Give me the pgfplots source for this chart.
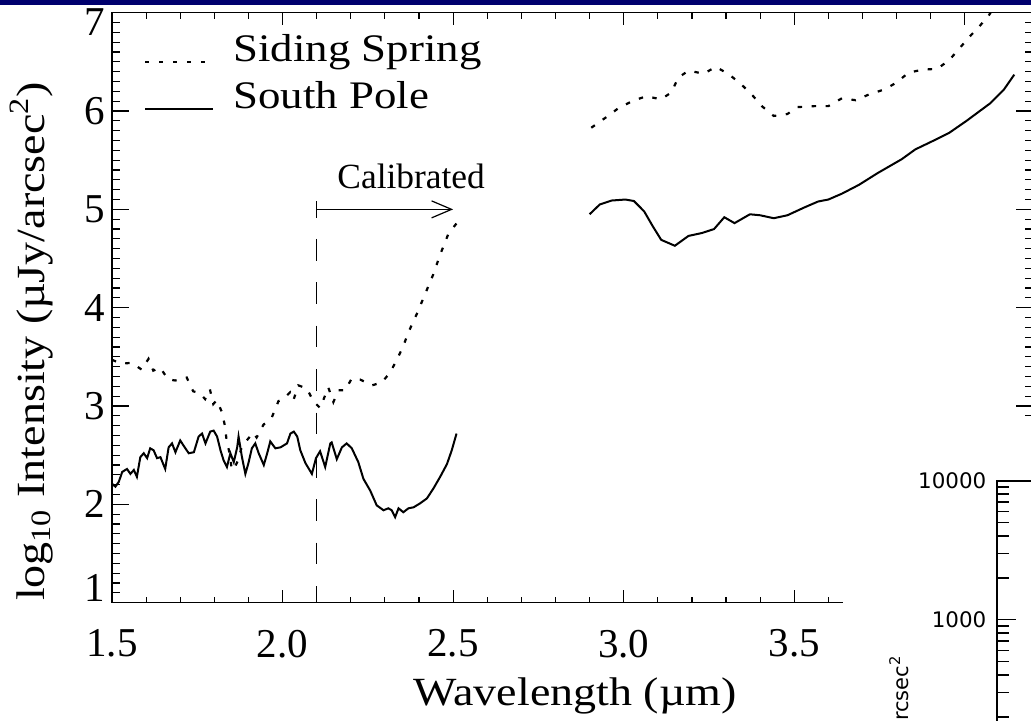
\documentclass[border=0pt]{standalone}
\usepackage{fontspec}
\setmainfont{Liberation Serif}
\newfontfamily\wideserif{Liberation Serif}[FakeStretch=1.15]
\newfontfamily\insetfont{DejaVu Sans}
\usepackage{pgfplots}
\pgfplotsset{compat=1.18}
\usetikzlibrary{arrows.meta}
\definecolor{navyband}{RGB}{0,0,110}

\pgfplotstableread{
x y
1.500 2.21
1.510 2.18
1.520 2.23
1.530 2.33
1.544 2.36
1.554 2.31
1.564 2.35
1.573 2.28
1.583 2.48
1.593 2.52
1.603 2.47
1.612 2.57
1.622 2.55
1.632 2.47
1.642 2.48
1.656 2.36
1.666 2.58
1.676 2.62
1.686 2.53
1.700 2.65
1.715 2.57
1.725 2.52
1.740 2.53
1.754 2.69
1.764 2.72
1.774 2.62
1.788 2.74
1.798 2.75
1.808 2.69
1.818 2.55
1.827 2.45
1.837 2.38
1.847 2.52
1.857 2.43
1.867 2.58
1.871 2.69
1.881 2.48
1.891 2.31
1.900 2.42
1.910 2.57
1.920 2.62
1.930 2.52
1.945 2.40
1.955 2.52
1.964 2.64
1.979 2.57
1.994 2.58
2.013 2.62
2.023 2.72
2.033 2.74
2.043 2.69
2.052 2.55
2.067 2.42
2.086 2.31
2.098 2.47
2.110 2.54
2.125 2.38
2.140 2.62
2.144 2.63
2.159 2.46
2.174 2.58
2.188 2.62
2.203 2.57
2.222 2.43
2.237 2.26
2.257 2.14
2.276 1.99
2.296 1.94
2.310 1.96
2.320 1.94
2.330 1.87
2.340 1.96
2.354 1.92
2.369 1.96
2.384 1.97
2.403 2.01
2.423 2.06
2.442 2.16
2.462 2.28
2.482 2.41
2.496 2.55
2.510 2.72
}\southA

\pgfplotstableread{
x y
2.900 4.95
2.930 5.05
2.965 5.09
3.005 5.10
3.030 5.085
3.060 4.98
3.085 4.83
3.110 4.69
3.150 4.63
3.190 4.73
3.230 4.76
3.265 4.80
3.295 4.92
3.325 4.86
3.370 4.95
3.400 4.94
3.440 4.91
3.480 4.94
3.530 5.02
3.570 5.08
3.600 5.10
3.640 5.16
3.690 5.25
3.745 5.37
3.815 5.51
3.855 5.61
3.915 5.71
3.955 5.78
4.005 5.90
4.075 6.08
4.115 6.22
4.145 6.37
}\southB

\pgfplotstableread{
x y
1.500 3.47
1.528 3.43
1.558 3.44
1.587 3.37
1.607 3.48
1.621 3.36
1.641 3.39
1.665 3.27
1.685 3.26
1.700 3.27
1.719 3.29
1.738 3.15
1.758 3.13
1.773 3.07
1.787 3.17
1.797 3.02
1.807 3.06
1.822 2.94
1.831 2.80
1.836 2.65
1.846 2.50
1.851 2.35
1.860 2.38
1.870 2.45
1.880 2.58
1.895 2.65
1.914 2.73
1.924 2.68
1.944 2.81
1.968 2.88
1.988 3.05
2.002 3.07
2.022 3.14
2.032 3.06
2.046 3.21
2.071 3.18
2.090 3.05
2.110 2.98
2.125 3.11
2.134 3.19
2.149 3.04
2.164 3.16
2.183 3.16
2.203 3.28
2.227 3.27
2.262 3.21
2.291 3.24
2.315 3.34
2.335 3.47
2.354 3.61
2.369 3.75
2.394 3.94
2.418 4.14
2.442 4.34
2.462 4.54
2.486 4.75
2.515 4.88
}\sidingA

\pgfplotstableread{
x y
2.905 5.83
2.950 5.94
2.985 6.03
3.025 6.10
3.065 6.15
3.110 6.12
3.140 6.19
3.160 6.34
3.190 6.41
3.235 6.38
3.270 6.45
3.310 6.37
3.345 6.27
3.375 6.17
3.405 6.05
3.440 5.95
3.480 5.97
3.510 6.04
3.560 6.05
3.600 6.05
3.640 6.13
3.680 6.11
3.720 6.17
3.765 6.22
3.800 6.29
3.835 6.39
3.875 6.42
3.920 6.43
3.955 6.52
3.985 6.64
4.015 6.76
4.040 6.85
4.070 6.97
4.090 7.08
}\sidingB

\begin{document}
\begin{tikzpicture}[x=0.5pt,y=0.5pt]
\useasboundingbox (0,0) rectangle (1031,721);
\clip (0,0) rectangle (1031,721);
\begin{axis}[
  at={(56pt,59.15pt)}, anchor=south west,
  scale only axis, width=460.5pt, height=295pt,
  xmin=1.5, xmax=4.2, ymin=1, ymax=7,
  xtick={1.5,2,2.5,3,3.5,4}, minor x tick num=4,
  xticklabels={1.5,2.0,2.5,3.0,3.5,{}},
  ytick={1,2,...,7}, minor y tick num=9,
  yticklabels={\raisebox{7.3pt}[\height][\depth]{1},2,3,4,5,6,\raisebox{-4.6pt}[\height][\depth]{7}},
  tick align=inside, xtick pos=both, ytick pos=both,
  axis line style={line width=0.7pt},
  every tick/.style={black, line width=0.6pt},
  xtick style={/pgfplots/major tick length=6.25pt, /pgfplots/minor tick length=3pt},
  ytick style={/pgfplots/major tick length=8.5pt, /pgfplots/minor tick length=4pt},
  /pgf/number format/assume math mode=true,
  ticklabel style={font=\fontsize{20.5}{24}\selectfont},
  xticklabel style={yshift=-10pt},
  label style={font=\fontsize{20}{24}\selectfont},
  xlabel={\wideserif Wavelength (µm)},
  ylabel={\wideserif log\textsubscript{10} Intensity (µJy/arcsec\textsuperscript{2})},
  xlabel style={at={(axis description cs:0.503,-0.1734)}, anchor=base},
  ylabel style={at={(axis description cs:-0.0738,0.4427)}, anchor=base},
]
\addplot[black, line width=1pt] table {\southA};
\addplot[black, line width=1pt] table {\southB};
\addplot[black, line width=1.1pt, dash pattern=on 2.2pt off 4.8pt] table {\sidingA};
\addplot[black, line width=1.1pt, dash pattern=on 2.2pt off 4.8pt] table {\sidingB};
% calibrated marker
\draw[black, line width=0.6pt, dash pattern=on 10.85pt off 10.85pt, dash phase=10.85pt] (axis cs:2.1,4.92) -- (axis cs:2.1,1);
\draw[black, line width=0.6pt] (axis cs:2.1,4.915) -- (axis cs:2.1,5.085);
\draw[black, line width=0.6pt, -{Straight Barb[length=10pt,width=8.5pt]}] (axis cs:2.1,5) -- (axis cs:2.5,5);
\node[anchor=base, inner sep=0pt, font=\fontsize{17.7}{20}\selectfont] at (axis cs:2.377,5.214) {Calibrated};
% legend
\draw[black, line width=1.1pt, dash pattern=on 2.2pt off 4.8pt] (axis cs:1.597,6.50) -- (axis cs:1.796,6.50);
\node[anchor=base west, inner sep=0pt, font=\wideserif\fontsize{19.5}{22}\selectfont] at (axis cs:1.855,6.50) {Siding Spring};
\draw[black, line width=1pt] (axis cs:1.597,6.025) -- (axis cs:1.796,6.025);
\node[anchor=base west, inner sep=0pt, font=\wideserif\fontsize{19.5}{22}\selectfont] at (axis cs:1.855,6.025) {South Pole};
\end{axis}
% overlapping inset panel
\fill[white] (843,0) rectangle (1031,301);
\node[rotate=90, anchor=base east, inner sep=0pt, font=\insetfont\fontsize{10.5}{12}\selectfont] at (908,66) {Sky brightness, µJy/arcsec\textsuperscript{2}};
\begin{axis}[
  at={(498.65pt,120.15pt)}, anchor=north west,
  scale only axis, width=150pt, height=208.5pt,
  ymode=log, ymin=10, ymax=10000, xmin=0, xmax=1,
  xtick=\empty, ytick={10,100,1000,10000}, yticklabels={10,100,1000,10000},
  axis line style={line width=1pt},
  tick align=inside, ytick pos=left,
  every tick/.style={black, line width=0.8pt},
  major tick length=9.5pt, minor tick length=6pt,
  /pgf/number format/assume math mode=true,
  yticklabel style={font=\insetfont\fontsize{10.7}{12}\selectfont, xshift=-2pt},
]
\end{axis}
\fill[navyband] (0,715.5) rectangle (1031,721);
\end{tikzpicture}
\end{document}
